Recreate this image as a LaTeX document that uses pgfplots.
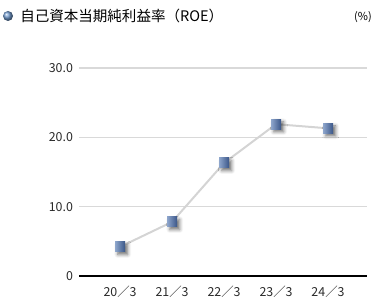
\documentclass[border=0pt]{standalone}
\usepackage{fontspec}
\setmainfont{Noto Sans CJK JP}
\usepackage{pgfplots}
\pgfplotsset{compat=1.18}
\usetikzlibrary{shadows.blur}
\definecolor{gridc}{HTML}{D9D9D9}
\definecolor{linec}{HTML}{D4D4D4}
\definecolor{mklight}{HTML}{8EA6CC}
\definecolor{mkdark}{HTML}{3A5688}
\definecolor{txt}{HTML}{2A2A2A}
\definecolor{dotc}{HTML}{7099CC}
\begin{document}
\begin{tikzpicture}
\useasboundingbox (0,0) rectangle (281.25pt,228pt);
\shade[ball color=dotc] (6pt,216pt) circle (3.75pt);
\node[anchor=west, inner sep=0, font=\fontsize{10.9pt}{12pt}\selectfont, text=black] at (15pt,216pt) {自己資本当期純利益率（ROE）};
\node[anchor=east, inner sep=0, font=\fontsize{8.25pt}{10pt}\selectfont, text=black] at (279pt,215.25pt) {(\%)};
\begin{axis}[
  at={(59.25pt,21pt)}, anchor=south west,
  scale only axis, width=216pt, height=156pt,
  xmin=-0.79, xmax=4.75, ymin=0, ymax=30,
  axis x line=bottom, axis y line=left,
  x axis line style={black, line width=1.1pt, -},
  y axis line style={draw=none},
  xtick={0,1,2,3,4},
  xticklabels={20／3,21／3,22／3,23／3,24／3},
  ytick={0,10,20,30},
  yticklabels={0,10.0,20.0,30.0},
  major tick length=0pt,
  ymajorgrids, grid style={gridc, line width=0.9pt},
  tick label style={font=\fontsize{9.3pt}{10pt}\selectfont, text=txt},
  xticklabel style={yshift=-4pt},
  yticklabel style={xshift=-1pt},
  clip=false,
  nodes near coords={},
  every node near coord/.style={anchor=center, rectangle, inner sep=0pt, minimum size=7.5pt,
     left color=mklight, right color=mkdark, draw=none,
     blur shadow={shadow xshift=2pt, shadow yshift=-2pt, shadow blur radius=2.5pt, shadow opacity=55}},
]
\addplot[linec, line width=1.5pt, mark=none] coordinates {
  (0,4.2) (1,7.8) (2,16.3) (3,21.9) (4,21.3)
};
\end{axis}
\end{tikzpicture}
\end{document}
